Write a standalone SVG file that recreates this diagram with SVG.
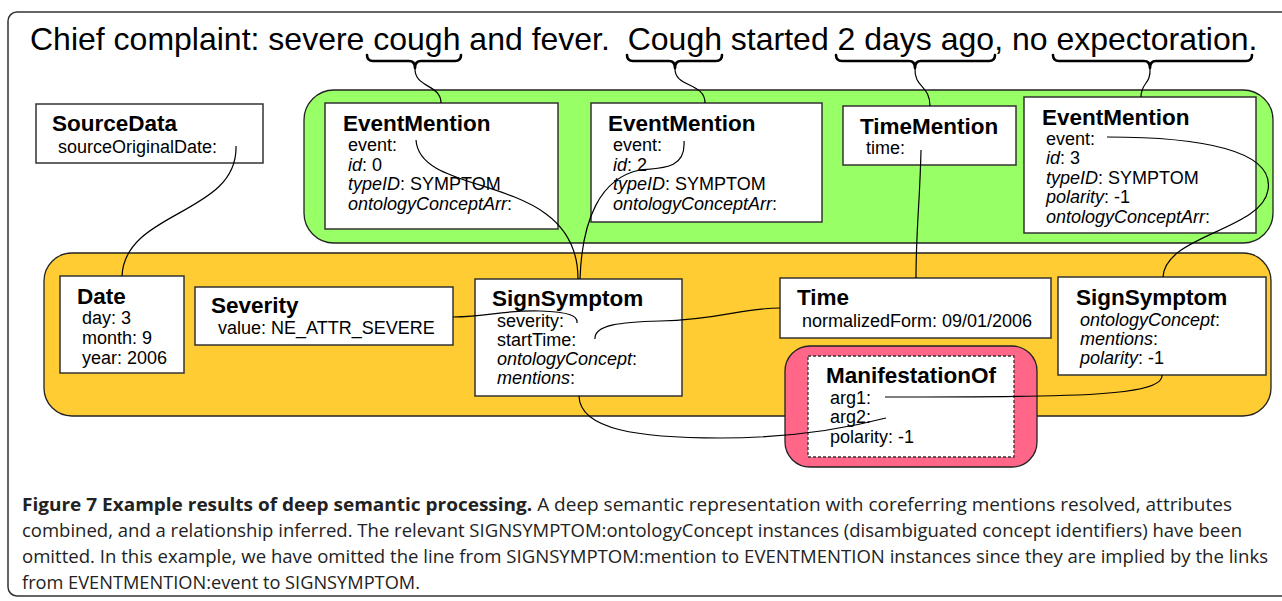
<svg xmlns="http://www.w3.org/2000/svg" width="1282" height="601" viewBox="0 0 1282 601">
<style>
.frame{fill:#fff;stroke:#333;stroke-width:1.5}
.grp{stroke:#222;stroke-width:1.3}
.box{fill:#fff;stroke:#333;stroke-width:1.5}
.dash{fill:#fff;stroke:#333;stroke-width:1.3;stroke-dasharray:3 2}
.t{font-family:"Liberation Sans",Arial,sans-serif;font-size:22.5px;font-weight:bold;fill:#000}
.b{font-family:"Liberation Sans",Arial,sans-serif;font-size:18px;fill:#000}
.i{font-style:italic}
.head{font-family:"Liberation Sans",Arial,sans-serif;font-size:32px;fill:#000}
.brace{fill:none;stroke:#000;stroke-width:2.6;stroke-linecap:round;stroke-linejoin:round}
.link{fill:none;stroke:#000;stroke-width:1.2}
.cap{font-family:"Open Sans","Noto Sans",sans-serif;font-size:18.5px;fill:#222}
.capb{font-weight:bold}
</style>
<rect class="frame" x="8" y="12" width="1290" height="584" rx="9"/>
<text class="head" x="30" y="50" xml:space="preserve">Chief complaint: severe cough and fever.  Cough started 2 days ago, no expectoration.</text>
<g id="braces">
<path class="brace" d="M367,55 Q367,61 373,61 L409,61 Q415,61 415,68 Q415,61 421,61 L455,61 Q461,61 461,55"/>
<path class="brace" d="M627,55 Q627,61 633,61 L669,61 Q675,61 675,68 Q675,61 681,61 L716,61 Q722,61 722,55"/>
<path class="brace" d="M836,55 Q836,61 842,61 L909,61 Q915,61 915,68 Q915,61 921,61 L989,61 Q995,61 995,55"/>
<path class="brace" d="M1053,55 Q1053,61 1059,61 L1144,61 Q1150,61 1150,68 Q1150,61 1156,61 L1246,61 Q1252,61 1252,55"/>
</g>
<g id="group-mentions"><rect class="grp" x="304" y="90" width="969" height="153" rx="30" fill="#99ff66"/></g>
<g id="group-semantic"><rect class="grp" x="44" y="253" width="1227" height="163" rx="28" fill="#ffcc33"/></g>
<g id="node-sourcedata">
<rect class="box" x="36" y="104" width="227" height="59"/>
<text class="t" x="52" y="131">SourceData</text>
<text class="b" x="58" y="153">sourceOriginalDate:</text>
</g>
<g id="node-eventmention1">
<rect class="box" x="325" y="103" width="233" height="126"/>
<text class="t" x="343" y="131">EventMention</text>
<text class="b" x="348" y="151">event:</text>
<text class="b" x="348" y="171"><tspan class="i">id</tspan>: 0</text>
<text class="b" x="348" y="190"><tspan class="i">typeID</tspan>: SYMPTOM</text>
<text class="b" x="348" y="210"><tspan class="i">ontologyConceptArr</tspan>:</text>
</g>
<g id="node-eventmention2">
<rect class="box" x="591" y="103" width="231" height="119"/>
<text class="t" x="608" y="131">EventMention</text>
<text class="b" x="613" y="151">event:</text>
<text class="b" x="613" y="171"><tspan class="i">id</tspan>: 2</text>
<text class="b" x="613" y="190"><tspan class="i">typeID</tspan>: SYMPTOM</text>
<text class="b" x="613" y="210"><tspan class="i">ontologyConceptArr</tspan>:</text>
</g>
<g id="node-timemention">
<rect class="box" x="843" y="106" width="173" height="59"/>
<text class="t" x="860" y="134">TimeMention</text>
<text class="b" x="866" y="154">time:</text>
</g>
<g id="node-eventmention3">
<rect class="box" x="1024" y="97" width="232" height="136"/>
<text class="t" x="1042" y="125">EventMention</text>
<text class="b" x="1046" y="145">event:</text>
<text class="b" x="1046" y="164"><tspan class="i">id</tspan>: 3</text>
<text class="b" x="1046" y="184"><tspan class="i">typeID</tspan>: SYMPTOM</text>
<text class="b" x="1046" y="203"><tspan class="i">polarity</tspan>: -1</text>
<text class="b" x="1046" y="223"><tspan class="i">ontologyConceptArr</tspan>:</text>
</g>
<g id="node-date">
<rect class="box" x="60" y="276" width="124" height="97"/>
<text class="t" x="77" y="304">Date</text>
<text class="b" x="82" y="324">day: 3</text>
<text class="b" x="82" y="344">month: 9</text>
<text class="b" x="82" y="364">year: 2006</text>
</g>
<g id="node-severity">
<rect class="box" x="195" y="287" width="258" height="58"/>
<text class="t" x="211" y="313">Severity</text>
<text class="b" x="218" y="334">value: NE_ATTR_SEVERE</text>
</g>
<g id="node-signsymptom1">
<rect class="box" x="475" y="279" width="207" height="117"/>
<text class="t" x="492" y="306">SignSymptom</text>
<text class="b" x="497" y="327">severity:</text>
<text class="b" x="497" y="346">startTime:</text>
<text class="b" x="497" y="365"><tspan class="i">ontologyConcept</tspan>:</text>
<text class="b" x="497" y="384"><tspan class="i">mentions</tspan>:</text>
</g>
<g id="node-time">
<rect class="box" x="780" y="278" width="271" height="60"/>
<text class="t" x="797" y="305">Time</text>
<text class="b" x="802" y="327">normalizedForm: 09/01/2006</text>
</g>
<g id="node-signsymptom2">
<rect class="box" x="1058" y="277" width="208" height="98"/>
<text class="t" x="1076" y="305">SignSymptom</text>
<text class="b" x="1080" y="326"><tspan class="i">ontologyConcept</tspan>:</text>
<text class="b" x="1080" y="345"><tspan class="i">mentions</tspan>:</text>
<text class="b" x="1080" y="364"><tspan class="i">polarity</tspan>: -1</text>
</g>
<g id="node-manifestationof">
<rect class="grp" x="785" y="346" width="252" height="121" rx="25" fill="#ff6688"/>
<rect class="dash" x="808" y="356" width="206" height="101"/>
<text class="t" x="826" y="383">ManifestationOf</text>
<text class="b" x="830" y="404">arg1:</text>
<text class="b" x="830" y="423">arg2:</text>
<text class="b" x="830" y="443">polarity: -1</text>
</g>
<g id="connectors">
<path class="link" d="M415,68 C414,88 441,84 441,103"/>
<path class="link" d="M675,68 C674,88 705,82 705,103"/>
<path class="link" d="M915,68 C914,88 930,85 930,106"/>
<path class="link" d="M1150,68 C1151,85 1141,82 1141,97"/>
<path class="link" d="M236,146 C238,215 125,210 122,276"/>
<path class="link" d="M416,140 C420,200 578,170 578,279"/>
<path class="link" d="M684,141 C686,170 660,168 640,170 C600,178 582,220 580,279"/>
<path class="link" d="M921,150 C920,200 916,230 916,278"/>
<path class="link" d="M1107,137 C1200,137 1275,150 1268,190 C1262,230 1165,235 1163,277"/>
<path class="link" d="M453,317 C490,317 500,310 540,311 C570,312 578,316 577,323"/>
<path class="link" d="M595,339 C594,325 620,322 660,321 C720,320 740,308 780,308"/>
<path class="link" d="M579,396 C580,430 640,438 720,438 C790,438 840,430 886,418"/>
<path class="link" d="M1162,375 C1164,392 1100,395 1040,396 C980,397 920,397 885,397"/>
</g>
<g id="caption">
<text class="cap" x="22" y="511" textLength="1210" lengthAdjust="spacingAndGlyphs"><tspan class="capb">Figure 7 Example results of deep semantic processing.</tspan> A deep semantic representation with coreferring mentions resolved, attributes</text>
<text class="cap" x="22" y="537" textLength="1220" lengthAdjust="spacingAndGlyphs">combined, and a relationship inferred. The relevant SIGNSYMPTOM:ontologyConcept instances (disambiguated concept identifiers) have been</text>
<text class="cap" x="22" y="563" textLength="1246" lengthAdjust="spacingAndGlyphs">omitted. In this example, we have omitted the line from SIGNSYMPTOM:mention to EVENTMENTION instances since they are implied by the links</text>
<text class="cap" x="22" y="589" textLength="398" lengthAdjust="spacingAndGlyphs">from EVENTMENTION:event to SIGNSYMPTOM.</text>
</g>
</svg>
